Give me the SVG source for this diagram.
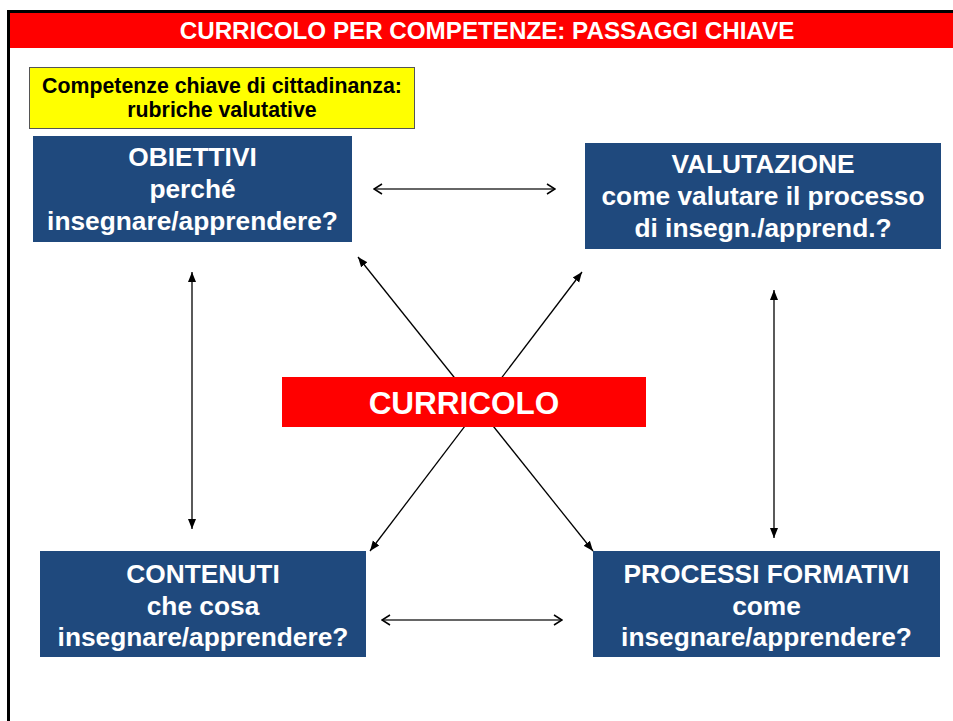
<svg xmlns="http://www.w3.org/2000/svg" width="953" height="721" viewBox="0 0 953 721">
<defs>
<style>
.box{fill:#1F497D}
.bt{font-family:"Liberation Sans",Arial,sans-serif;font-weight:bold;font-size:26.3px;fill:#fff;text-anchor:middle}
.ln{stroke:#000;stroke-width:1.3;fill:none}
.lnh{stroke:#333;stroke-width:1.6;fill:none}
</style>
<marker id="fa" viewBox="0 0 10 10" refX="10" refY="5" markerWidth="10" markerHeight="10" markerUnits="userSpaceOnUse" orient="auto-start-reverse">
<path d="M0,1 L10,5 L0,9 Z" fill="#000"/>
</marker>
<marker id="oa" viewBox="0 0 10 12" refX="9" refY="6" markerWidth="10" markerHeight="12" markerUnits="userSpaceOnUse" orient="auto-start-reverse">
<path d="M1,1 L9,6 L1,11" fill="none" stroke="#000" stroke-width="1.5"/>
</marker>
</defs>
<rect x="0" y="0" width="953" height="721" fill="#fff"/>
<rect x="8.5" y="11.5" width="970" height="730" fill="none" stroke="#000" stroke-width="3"/>
<g id="title">
<rect x="10" y="13" width="960" height="35" fill="#FF0000"/>
<text x="487" y="39" font-family="'Liberation Sans',Arial,sans-serif" font-weight="bold" font-size="24.2" fill="#fff" text-anchor="middle">CURRICOLO PER COMPETENZE: PASSAGGI CHIAVE</text>
</g>
<g id="connectors">
<line class="ln" x1="358" y1="257" x2="593" y2="551" marker-start="url(#fa)" marker-end="url(#fa)"/>
<line class="ln" x1="582" y1="272" x2="370" y2="551" marker-start="url(#fa)" marker-end="url(#fa)"/>
<line class="lnh" x1="374" y1="189" x2="555" y2="189" marker-start="url(#oa)" marker-end="url(#oa)"/>
<line class="lnh" x1="382" y1="620" x2="562" y2="620" marker-start="url(#oa)" marker-end="url(#oa)"/>
<line class="ln" x1="192" y1="272" x2="192" y2="529" marker-start="url(#fa)" marker-end="url(#fa)"/>
<line class="ln" x1="774" y1="290" x2="774" y2="538" marker-start="url(#fa)" marker-end="url(#fa)"/>
</g>
<g id="rubriche">
<rect x="29.5" y="67.5" width="385" height="61" fill="#FFFF00" stroke="#555" stroke-width="1"/>
<text x="222" y="93" font-family="'Liberation Sans',Arial,sans-serif" font-weight="bold" font-size="21.3" fill="#000" text-anchor="middle">Competenze chiave di cittadinanza:</text>
<text x="222" y="117" font-family="'Liberation Sans',Arial,sans-serif" font-weight="bold" font-size="21.3" fill="#000" text-anchor="middle">rubriche valutative</text>
</g>
<g id="obiettivi">
<rect class="box" x="33" y="136" width="319" height="106"/>
<text class="bt" x="192.5" y="166">OBIETTIVI</text>
<text class="bt" x="192.5" y="198">perché</text>
<text class="bt" x="192.5" y="230">insegnare/apprendere?</text>
</g>
<g id="valutazione">
<rect class="box" x="585" y="143" width="356" height="106"/>
<text class="bt" x="763" y="173">VALUTAZIONE</text>
<text class="bt" x="763" y="205">come valutare il processo</text>
<text class="bt" x="763" y="237">di insegn./apprend.?</text>
</g>
<g id="curricolo">
<rect x="282" y="377" width="364" height="50" fill="#FF0000"/>
<text x="464" y="414" font-family="'Liberation Sans',Arial,sans-serif" font-weight="bold" font-size="31.5" fill="#fff" text-anchor="middle">CURRICOLO</text>
</g>
<g id="contenuti">
<rect class="box" x="40" y="551" width="326" height="106"/>
<text class="bt" x="203" y="583">CONTENUTI</text>
<text class="bt" x="203" y="615">che cosa</text>
<text class="bt" x="203" y="646">insegnare/apprendere?</text>
</g>
<g id="processi">
<rect class="box" x="593" y="551" width="347" height="106"/>
<text class="bt" x="766.5" y="583">PROCESSI FORMATIVI</text>
<text class="bt" x="766.5" y="615">come</text>
<text class="bt" x="766.5" y="646">insegnare/apprendere?</text>
</g>
</svg>
